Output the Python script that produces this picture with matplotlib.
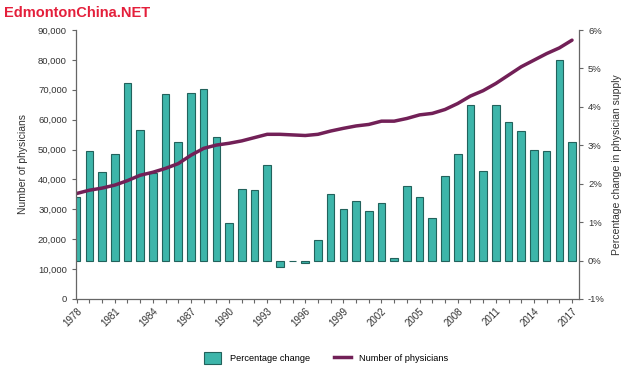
import matplotlib
matplotlib.use("Agg")
import matplotlib.pyplot as plt
from matplotlib.patches import Patch
from matplotlib.lines import Line2D
from matplotlib.ticker import FuncFormatter, MultipleLocator

plt.rcParams['font.family'] = ['Liberation Sans', 'DejaVu Sans']

years = list(range(1978, 2018))
pct_change = [1.66, 2.86, 2.30, 2.77, 4.63, 3.39, 2.29, 4.33, 3.09, 4.35,
              4.47, 3.22, 0.99, 1.86, 1.84, 2.49, -0.17, -0.02, -0.07, 0.54,
              1.73, 1.33, 1.56, 1.29, 1.49, 0.07, 1.95, 1.66, 1.11, 2.21,
              2.77, 4.06, 2.34, 4.06, 3.60, 3.37, 2.88, 2.86, 5.22, 3.08]
physicians = [35300, 36400, 37100, 38100, 39600, 41400, 42400, 43700, 45300, 48100,
              50400, 51500, 52100, 52900, 54000, 55100, 55100, 54900, 54700, 55100,
              56200, 57100, 57900, 58400, 59500, 59500, 60400, 61600, 62100, 63400,
              65400, 67900, 69700, 72100, 74900, 77700, 79900, 82100, 84000, 86600]
tick_years = list(range(1978, 2018, 3))

bar_face = '#3db5aa'
bar_edge = '#22625c'
line_col = '#722057'
axis_col = '#666666'
text_col = '#333333'

fig = plt.figure(figsize=(6.4, 3.77), dpi=100)
ax = fig.add_axes([76/640, 1-299/377, (579-76)/640, (299-30)/377])
ax2 = ax.twinx()

ax2.bar(years, pct_change, width=0.6, color=bar_face, edgecolor=bar_edge, linewidth=0.8)
ax.plot(years, physicians, color=line_col, lw=2.5, solid_capstyle='round')

ax.set_zorder(ax2.get_zorder() + 1)
ax.patch.set_visible(False)

ax.set_xlim(1977.95, 2017.55)
ax.set_ylim(0, 90000)
ax2.set_ylim(-1, 6)

ax.yaxis.set_major_locator(MultipleLocator(10000))
ax.yaxis.set_major_formatter(FuncFormatter(lambda v, p: f"{int(v):,}"))
ax2.yaxis.set_major_locator(MultipleLocator(1))
ax2.yaxis.set_major_formatter(FuncFormatter(lambda v, p: f"{int(round(v))}%"))

ax.set_xticks(tick_years)
ax.set_xticks(years, minor=True)
ax.set_xticklabels([str(y) for y in tick_years], rotation=45, ha='right',
                   rotation_mode='anchor', fontsize=7, color=text_col)

for a in (ax, ax2):
    a.spines['top'].set_visible(False)
    for s in ('left', 'right', 'bottom'):
        a.spines[s].set_color(axis_col)
        a.spines[s].set_linewidth(0.9)
    a.tick_params(colors=axis_col, labelcolor=text_col, labelsize=6.8, length=3, width=0.8)
ax.spines['right'].set_visible(False)
ax2.spines['left'].set_visible(False)
ax2.spines['bottom'].set_visible(False)
ax.tick_params(axis='x', which='minor', length=3, width=0.8, colors=axis_col)
ax.tick_params(axis='x', which='major', length=3, pad=2, labelsize=7)

ax.set_ylabel("Number of physicians", fontsize=7.5, color=text_col, labelpad=7)
ax2.set_ylabel("Percentage change in physician supply", fontsize=7.5, color=text_col, labelpad=5)

handles = [Patch(facecolor=bar_face, edgecolor=bar_edge, linewidth=0.8),
           Line2D([0], [0], color=line_col, lw=2.5)]
fig.legend(handles, ["Percentage change", "Number of physicians"], loc='center',
           bbox_to_anchor=(0.51, 0.05), ncol=2, frameon=False, fontsize=6.7,
           handlelength=1.8, handleheight=1.7, columnspacing=2.6, handletextpad=0.9)

fig.text(4/640, 1-13/377, "EdmontonChina.NET", color='#e41f3b', fontsize=10.5,
         fontweight='bold', family=['Liberation Sans Narrow', 'Liberation Sans', 'DejaVu Sans'],
         va='center', ha='left')

fig.savefig("out.png", dpi=100)
